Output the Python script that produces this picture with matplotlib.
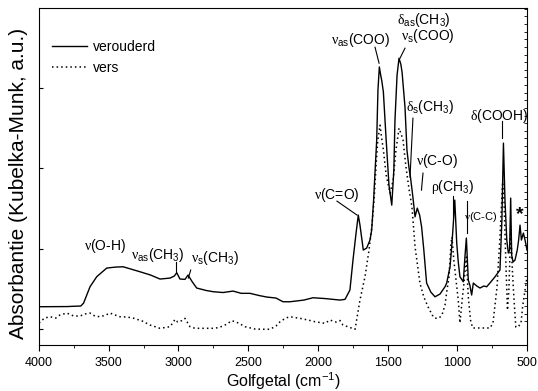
import matplotlib
matplotlib.use('Agg')
import matplotlib.pyplot as plt
import numpy as np
from matplotlib.lines import Line2D

plt.rcParams['font.family'] = ['Liberation Sans', 'DejaVu Sans']
plt.rcParams['mathtext.fontset'] = 'custom'
plt.rcParams['mathtext.rm'] = 'Liberation Sans'
plt.rcParams['mathtext.it'] = 'Liberation Sans:italic'
plt.rcParams['mathtext.sf'] = 'Liberation Serif'   # griekse letters in serif, zoals Symbol

# ===== DATA (golfgetal in cm-1, absorbantie in a.u.) =====
wn_oud = [4000, 3800, 3700, 3680, 3634, 3586, 3514, 3450, 3397, 3340, 3276, 3200,
          3132, 3060, 3030, 3012, 2989, 2953, 2931, 2900, 2869, 2800, 2750, 2680,
          2608, 2550, 2487, 2420, 2367, 2300, 2250, 2200, 2100, 2035, 1950, 1841,
          1805, 1770, 1748, 1726, 1710, 1698, 1674, 1650, 1626, 1614, 1600, 1593,
          1578, 1569, 1559, 1548, 1542, 1530, 1510, 1490, 1470, 1455, 1447, 1432,
          1418, 1405, 1396, 1375, 1361, 1346, 1335, 1320, 1303, 1287, 1270, 1256,
          1240, 1220, 1190, 1160, 1124, 1088, 1076, 1052, 1040, 1029, 1018, 1004,
          993, 981, 957, 945, 935, 921, 910, 897, 885, 860, 837, 810, 789, 760,
          729, 705, 694, 680, 669, 658, 645, 634, 625, 617, 610, 600, 586, 570,
          560, 550, 540, 526, 514, 500]
abs_oud = [0.477, 0.479, 0.486, 0.523, 0.726, 0.851, 0.959, 0.971, 0.975, 0.946, 0.913, 0.872,
           0.822, 0.834, 0.859, 0.900, 0.822, 0.818, 0.872, 0.785, 0.710, 0.679, 0.664, 0.654,
           0.672, 0.644, 0.644, 0.616, 0.598, 0.585, 0.539, 0.539, 0.560, 0.589, 0.579, 0.560,
           0.569, 0.685, 1.059, 1.395, 1.619, 1.494, 1.183, 1.208, 1.308, 1.432, 1.806, 2.055,
           2.553, 3.176, 3.466, 3.350, 3.300, 3.151, 2.553, 1.993, 1.743, 2.179, 2.802, 3.362,
           3.574, 3.500, 3.400, 2.964, 2.428, 2.204, 2.080, 1.868, 1.598, 1.706, 1.619, 1.473,
           1.183, 0.772, 0.660, 0.601, 0.635, 0.726, 0.772, 0.975, 1.224, 1.500, 1.806, 1.270,
           1.034, 0.851, 0.788, 1.100, 1.333, 0.809, 0.747, 0.623, 0.772, 0.735, 0.710, 0.735,
           0.726, 0.785, 0.851, 0.909, 0.934, 1.557, 2.516, 1.806, 1.308, 1.146, 1.183, 1.831,
           1.121, 1.034, 1.059, 1.183, 1.308, 1.494, 1.308, 1.395, 1.308, 1.183]

wn_vers = [4000, 3960, 3921, 3880, 3850, 3801, 3750, 3706, 3670, 3634, 3600, 3562,
           3520, 3491, 3455, 3419, 3370, 3326, 3260, 3204, 3132, 3060, 3024, 3005,
           2989, 2953, 2917, 2881, 2800, 2738, 2700, 2666, 2616, 2570, 2522, 2451,
           2400, 2343, 2300, 2271, 2230, 2200, 2128, 2070, 2020, 1949, 1913, 1870,
           1841, 1820, 1780, 1733, 1698, 1662, 1633, 1612, 1597, 1580, 1570, 1554,
           1545, 1530, 1510, 1482, 1460, 1440, 1418, 1400, 1389, 1368, 1345, 1325,
           1303, 1268, 1240, 1210, 1180, 1160, 1130, 1110, 1088, 1074, 1060, 1045,
           1038, 1025, 1005, 993, 981, 965, 952, 935, 921, 905, 890, 837, 790, 765,
           744, 715, 694, 675, 665, 650, 640, 630, 617, 605, 593, 580, 564, 543,
           530, 514, 500]
abs_vers = [0.274, 0.336, 0.352, 0.336, 0.374, 0.398, 0.361, 0.361, 0.386, 0.398, 0.361, 0.352,
            0.374, 0.398, 0.374, 0.352, 0.349, 0.336, 0.299, 0.249, 0.208, 0.228, 0.320, 0.286,
            0.290, 0.332, 0.228, 0.208, 0.208, 0.208, 0.224, 0.249, 0.303, 0.274, 0.228, 0.199,
            0.196, 0.196, 0.237, 0.290, 0.336, 0.352, 0.332, 0.311, 0.290, 0.270, 0.311, 0.286,
            0.305, 0.249, 0.224, 0.196, 0.560, 0.851, 1.183, 1.494, 1.806, 2.304, 2.553, 2.740,
            2.615, 2.428, 2.117, 1.893, 2.055, 2.428, 2.702, 2.615, 2.553, 2.217, 1.930, 1.719,
            1.224, 0.772, 0.598, 0.477, 0.374, 0.333, 0.336, 0.374, 0.498, 0.685, 0.834, 1.270,
            1.345, 1.059, 0.747, 0.560, 0.274, 0.560, 0.772, 1.096, 0.598, 0.311, 0.212, 0.212,
            0.212, 0.212, 0.274, 0.722, 1.345, 2.030, 1.806, 0.934, 0.436, 0.685, 1.432, 0.934,
            0.560, 0.224, 0.224, 0.274, 0.498, 0.685, 0.847]

# ===== ANNOTATIES: (tekst, x, y, fontsize) =====
NU = '$\\mathsf{\\nu}$'
DELTA = '$\\mathsf{\\delta}$'
RHO = '$\\mathsf{\\rho}$'
labels = [
    (NU + '(O-H)', 3527, 1.233, 10),
    (NU + '$_{\\mathregular{as}}$(CH$_{\\mathregular{3}}$)', 3147, 1.121, 10),
    (NU + '$_{\\mathregular{s}}$(CH$_{\\mathregular{3}}$)', 2738, 1.083, 10),
    (NU + '(C=O)', 1863, 1.868, 10),
    (NU + '$_{\\mathregular{as}}$(COO)', 1691, 3.798, 10),
    (DELTA + '$_{\\mathregular{as}}$(CH$_{\\mathregular{3}}$)', 1239, 4.055, 10),
    (NU + '$_{\\mathregular{s}}$(COO)', 1210, 3.848, 10),
    (DELTA + '$_{\\mathregular{s}}$(CH$_{\\mathregular{3}}$)', 1196, 2.964, 10),
    (NU + '(C-O)', 1146, 2.291, 10),
    (RHO + '(CH$_{\\mathregular{3}}$)', 1031, 1.968, 10),
    (NU + '(C-C)', 830, 1.594, 8),
    (DELTA + '(COOH)', 701, 2.852, 10),
]
# verbindingslijnen label -> piek: (x1, y1, x2, y2)
pointer_lines = [
    (3017, 1.034, 3017, 0.909),
    (2912, 0.934, 2929, 0.834),
    (1863, 1.793, 1719, 1.619),
    (1590, 3.711, 1561, 3.512),
    (1375, 3.699, 1411, 3.574),
    (1318, 2.827, 1339, 2.092),
    (1246, 2.142, 1257, 1.930),
    (1033, 1.856, 1033, 1.600),
    (930, 1.800, 930, 1.400),
    (679, 2.790, 679, 2.578),
]

fig = plt.figure(figsize=(5.38, 3.91), dpi=100)
ax = fig.add_axes([39 / 538, 46 / 391, 488 / 538, 337 / 391])

ax.plot(wn_oud, abs_oud, color='black', linewidth=1.0, label='verouderd')
ax.plot(wn_vers, abs_vers, color='black', linewidth=1.1, linestyle=(0, (1, 2)), label='vers')

for txt, x, y, fs in labels:
    ax.text(x, y, txt, ha='center', va='center', fontsize=fs)
for x1, y1, x2, y2 in pointer_lines:
    ax.plot([x1, x2], [y1, y2], color='black', linewidth=0.8)
ax.text(550, 1.62, '*', ha='center', va='center', fontsize=14, fontweight='bold')

ax.set_xlim(4000, 500)
ax.set_ylim(0, 4.2)
ax.set_xticks([4000, 3500, 3000, 2500, 2000, 1500, 1000, 500])
ax.set_xticks(np.arange(3750, 500, -500), minor=True)
ax.tick_params(axis='x', which='major', direction='out', length=4, pad=5, labelsize=9, top=False)
ax.tick_params(axis='x', which='minor', direction='out', length=2.5, top=False)

ax.set_yticks([0.2, 1.2, 2.2, 3.2])
ax.set_yticks(np.arange(0.2, 4.2, 0.095), minor=True)
ax.tick_params(axis='y', which='major', direction='in', length=3, left=True, right=False, labelleft=False)
ax.tick_params(axis='y', which='minor', direction='in', length=2.5, left=False, right=True)

ax.set_xlabel('Golfgetal (cm$^{\\mathregular{-1}}$)', fontsize=11.5)
ax.set_ylabel('Absorbantie (Kubelka-Munk, a.u.)', fontsize=15)
ax.yaxis.set_label_coords(-0.022, 0.48)
ax.xaxis.set_label_coords(0.5, -0.075)

handles = [Line2D([], [], color='black', linewidth=1.0),
           Line2D([], [], color='black', linewidth=1.1, linestyle=(0, (1, 2)))]
ax.legend(handles, ['verouderd', 'vers'], loc='upper left', frameon=False, fontsize=10,
          handlelength=2.5, handletextpad=0.45, labelspacing=0.5,
          borderpad=0, borderaxespad=0, bbox_to_anchor=(0.027, 0.905))

fig.savefig('out.png', dpi=100)
